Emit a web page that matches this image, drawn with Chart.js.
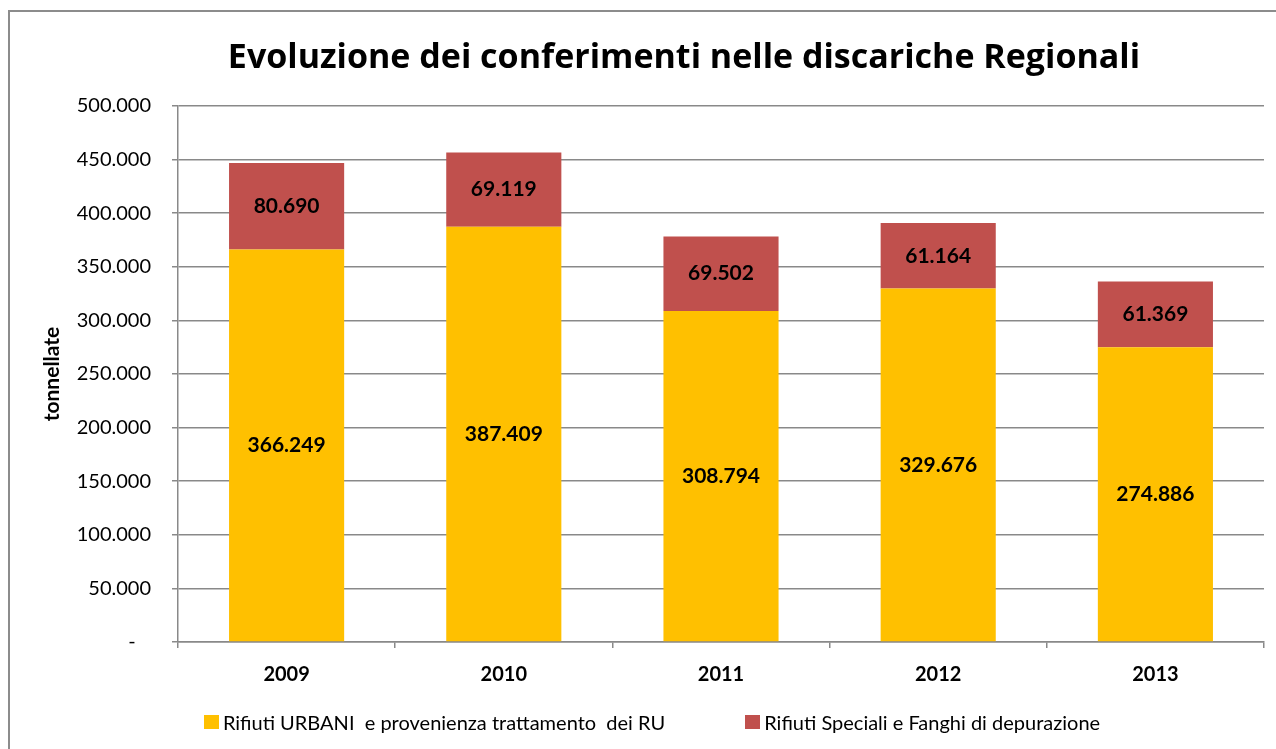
<!DOCTYPE html>
<html lang="it">

<head>
  <meta charset="UTF-8">
  <title>Discariche</title>
  <script src="https://cdn.jsdelivr.net/npm/chart.js"></script>
</head>

<style>
  body {
    margin: 0;
    background: #ffffff;
  }

  .wrap {
    position: relative;
    width: 1276px;
    height: 749px;
    overflow: hidden;
  }

  .frame {
    position: absolute;
    left: 8px;
    top: 10px;
    width: 1300px;
    height: 800px;
    border: 2px solid #8c8c8c;
    pointer-events: none;
  }

  canvas {
    position: absolute;
    left: 0;
    top: 0;
  }

  .titolo {
    position: absolute;
    left: 0;
    top: 34px;
    width: 1368px;
    line-height: 42px;
    text-align: center;
    font-family: "Open Sans", Lato, sans-serif;
    font-weight: bold;
    font-size: 34px;
    color: #000;
  }

  .legenda {
    position: absolute;
    left: 40px;
    right: 12px;
    top: 708px;
    height: 28px;
    display: flex;
    justify-content: center;
    align-items: center;
    gap: 80px;
    font-family: Lato, "Open Sans", sans-serif;
    font-size: 20px;
    color: #000;
    white-space: pre;
  }

  .legenda span {
    display: flex;
    align-items: center;
  }

  .legenda i {
    display: inline-block;
    width: 15px;
    height: 14px;
    margin-right: 4px;
  }
</style>

<body>
  <div class="wrap">
    <div class="frame"></div>
    <canvas id="chart" width="1276" height="749"></canvas>
    <div class="titolo">Evoluzione dei conferimenti nelle discariche Regionali</div>
    <div class="legenda" id="legenda"></div>
  </div>

  <script>
    // data
    const anni = ['2009', '2010', '2011', '2012', '2013'];
    const urbani = [366249, 387409, 308794, 329676, 274886];
    const speciali = [80690, 69119, 69502, 61164, 61369];
    const serieNomi = ['Rifiuti URBANI  e provenienza trattamento  dei RU', 'Rifiuti Speciali e Fanghi di depurazione'];
    const serieColori = ['#FFC000', '#C0504D'];
    const yTicks = [0, 50000, 100000, 150000, 200000, 250000, 300000, 350000, 400000, 450000, 500000];

    const FONT = 'Lato, "Open Sans", sans-serif';
    const GRIGIO = '#898989';

    function punti(n) {
      return String(n).replace(/\B(?=(\d{3})+(?!\d))/g, '.');
    }

    // labels in the middle of each segment
    const etichette = {
      id: 'etichette',
      afterDatasetsDraw(chart) {
        const ctx = chart.ctx;
        ctx.save();
        ctx.font = 'bold 21px ' + FONT;
        ctx.fillStyle = '#000';
        ctx.textAlign = 'center';
        ctx.textBaseline = 'middle';
        chart.data.datasets.forEach((ds, i) => {
          chart.getDatasetMeta(i).data.forEach((bar, j) => {
            ctx.fillText(punti(ds.data[j]), bar.x, (bar.y + bar.base) / 2);
          });
        });
        ctx.restore();
      }
    };

    const chart = new Chart(document.getElementById('chart'), {
      type: 'bar',
      data: {
        labels: anni,
        datasets: [{
          label: serieNomi[0],
          data: urbani,
          backgroundColor: serieColori[0]
        }, {
          label: serieNomi[1],
          data: speciali,
          backgroundColor: serieColori[1]
        }]
      },
      options: {
        responsive: false,
        animation: false,
        layout: {
          padding: { left: 40, right: 12, top: 106, bottom: 45 }
        },
        datasets: {
          bar: { barPercentage: 0.53, categoryPercentage: 1 }
        },
        plugins: {
          tooltip: { enabled: false },
          legend: { display: false },
          title: { display: false }
        },
        scales: {
          x: {
            stacked: true,
            afterFit: s => { s.height = 62; },
            border: { color: GRIGIO, width: 1.5 },
            grid: { display: true, drawOnChartArea: false, drawTicks: true, tickLength: 6, color: GRIGIO, lineWidth: 1.5 },
            ticks: { color: '#000', padding: 15, font: { family: FONT, size: 20, weight: 'bold' } }
          },
          y: {
            stacked: true,
            min: 0,
            max: 500000,
            afterFit: s => { s.width = 138; },
            afterBuildTicks: s => { s.ticks = yTicks.map(v => ({ value: v })); },
            border: { color: GRIGIO, width: 1.5 },
            grid: { color: GRIGIO, lineWidth: 1.5, tickLength: 6 },
            ticks: {
              color: '#000',
              padding: 21,
              font: { family: FONT, size: 20 },
              callback: v => v === 0 ? '-   ' : punti(v)
            },
            title: {
              display: true,
              text: 'tonnellate',
              color: '#000',
              padding: { top: 0, bottom: 0 },
              font: { family: FONT, size: 21, weight: 'bold', lineHeight: 1.2 }
            }
          }
        }
      },
      plugins: [etichette]
    });

    // legend below the plot, built from the dataset names and colours
    const legenda = document.getElementById('legenda');
    chart.data.datasets.forEach(ds => {
      const item = document.createElement('span');
      const box = document.createElement('i');
      box.style.background = ds.backgroundColor;
      item.appendChild(box);
      item.appendChild(document.createTextNode(ds.label));
      legenda.appendChild(item);
    });
  </script>
</body>

</html>
